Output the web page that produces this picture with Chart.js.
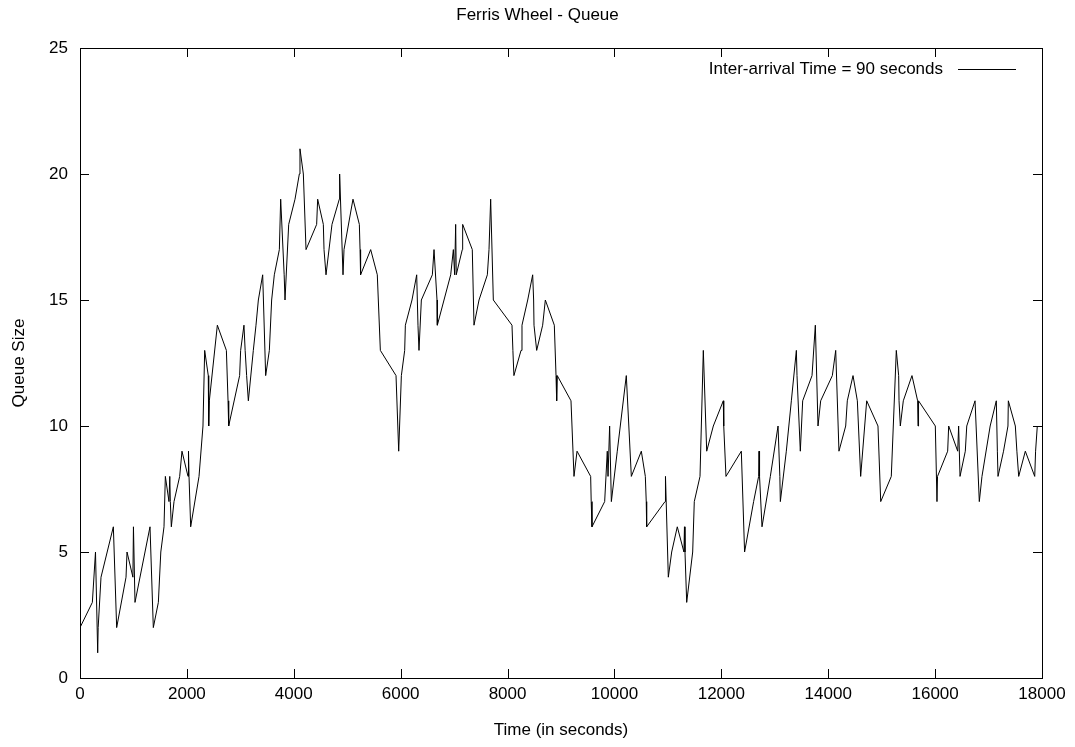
<!DOCTYPE html>
<html>
<head>
<meta charset="utf-8">
<title>Ferris Wheel - Queue</title>
<script src="https://cdn.jsdelivr.net/npm/chart.js@4/dist/chart.umd.min.js"></script>
<style>
html, body { margin: 0; padding: 0; background: #fff; }
#wrap { width: 1075px; height: 747px; }
</style>
</head>
<body>
<div id="wrap"><canvas id="chart1"></canvas></div>
<script>
// event times (seconds) and queue size at that time
const times = [
    0, 231, 290, 331, 340, 393, 624, 686, 861, 880, 990, 1000, 1029, 1310, 1372, 1466,
    1512, 1572, 1597, 1665, 1680, 1690, 1709, 1759, 1865, 1908, 2021, 2030, 2040, 2071,
    2227, 2301, 2333, 2400, 2408, 2420, 2570, 2739, 2770, 2782, 2987, 3006, 3068, 3090,
    3118, 3150, 3243, 3293, 3337, 3418, 3474, 3543, 3586, 3636, 3730, 3755, 3820, 3836,
    3905, 4023, 4104, 4116, 4179, 4229, 4428, 4447, 4553, 4566, 4603, 4715, 4852, 4858,
    4921, 4940, 5108, 5227, 5240, 5250, 5439, 5563, 5620, 5913, 5963, 6013, 6075, 6088,
    6212, 6300, 6324, 6343, 6387, 6593, 6624, 6680, 6686, 6811, 6936, 6986, 7010, 7029,
    7040, 7153, 7160, 7340, 7372, 7466, 7622, 7653, 7684, 7734, 8083, 8100, 8119, 8252,
    8270, 8377, 8470, 8488, 8495, 8545, 8657, 8707, 8875, 8907, 8919, 8930, 9187, 9243,
    9300, 9555, 9565, 9580, 9817, 9866, 9880, 9910, 9942, 10053, 10222, 10316, 10503, 10578,
    10595, 10603, 10946, 10955, 11008, 11071, 11176, 11300, 11310, 11320, 11352, 11464, 11494, 11601,
    11663, 11726, 11850, 12037, 12045, 12087, 12374, 12435, 12604, 12698, 12705, 12715, 12761, 12917,
    13061, 13095, 13104, 13216, 13310, 13404, 13416, 13478, 13522, 13697, 13759, 13809, 13859, 14077,
    14140, 14201, 14327, 14357, 14464, 14545, 14607, 14720, 14931, 14982, 15180, 15274, 15318, 15325,
    15349, 15405, 15567, 15673, 15680, 15690, 16004, 16035, 16045, 16235, 16254, 16423, 16440, 16466,
    16565, 16592, 16747, 16827, 16877, 17030, 17145, 17165, 17177, 17280, 17363, 17370, 17501, 17530,
    17564, 17688, 17864, 17880, 17912
];
const queueSizes = [
    2, 3, 5, 1, 2, 4, 6, 2, 4, 5, 4, 6, 3, 6, 2, 3,
    5, 6, 8, 7, 8, 7, 6, 7, 8, 9, 8, 9, 8, 6,
    8, 10, 13, 12, 10, 11, 14, 13, 11, 10, 12, 13, 14, 13,
    12, 11, 13, 14, 15, 16, 12, 13, 15, 16, 17, 19, 16, 15,
    18, 19, 20, 21, 20, 17, 18, 19, 18, 17, 16, 18, 19, 20,
    16, 17, 19, 18, 17, 16, 17, 16, 13, 12, 9, 12, 13, 14,
    15, 16, 14, 13, 15, 16, 17, 15, 14, 15, 16, 17, 16, 18,
    16, 17, 18, 17, 14, 15, 16, 17, 19, 15, 14, 13, 12, 13,
    14, 15, 16, 15, 14, 13, 14, 15, 14, 12, 11, 12, 11, 8,
    9, 8, 7, 6, 7, 9, 8, 10, 7, 9, 12, 8, 9, 8,
    7, 6, 7, 8, 4, 5, 6, 5, 6, 5, 3, 5, 7, 8,
    13, 9, 10, 11, 10, 8, 9, 5, 7, 8, 9, 8, 6, 8,
    10, 8, 7, 9, 11, 13, 12, 9, 11, 12, 14, 10, 11, 12,
    13, 9, 10, 11, 12, 11, 8, 11, 10, 7, 8, 13, 12, 11,
    10, 11, 12, 11, 10, 11, 10, 7, 8, 9, 10, 9, 10, 8,
    9, 10, 11, 7, 8, 10, 11, 9, 8, 9, 10, 11, 10, 9,
    8, 9, 8, 9, 10
];
const xTicks = [0, 2000, 4000, 6000, 8000, 10000, 12000, 14000, 16000, 18000];
const yTicks = [0, 5, 10, 15, 20, 25];

const chartTitle = 'Ferris Wheel - Queue';
const seriesLabel = 'Inter-arrival Time = 90 seconds';
const xTitle = 'Time (in seconds)';
const yTitle = 'Queue Size';

const fontFamily = '"Liberation Sans", Arial, Helvetica, sans-serif';
const fontSize = 17;

// gnuplot style frame: box, inward ticks on all 4 sides, title and key
const gnuplotFrame = {
    id: 'gnuplotFrame',
    afterDatasetsDraw(chart) {
        const ctx = chart.ctx;
        const a = chart.chartArea;
        const sx = chart.scales.x, sy = chart.scales.y;
        const tick = 9;
        ctx.save();
        ctx.strokeStyle = '#000';
        ctx.lineWidth = 1;
        ctx.beginPath();
        xTicks.forEach(v => {
            const px = Math.round(sx.getPixelForValue(v)) + 0.5;
            ctx.moveTo(px, a.bottom); ctx.lineTo(px, a.bottom - tick);
            ctx.moveTo(px, a.top); ctx.lineTo(px, a.top + tick);
        });
        yTicks.forEach(v => {
            const py = Math.round(sy.getPixelForValue(v)) + 0.5;
            ctx.moveTo(a.left, py); ctx.lineTo(a.left + tick, py);
            ctx.moveTo(a.right, py); ctx.lineTo(a.right - tick, py);
        });
        ctx.stroke();
        ctx.strokeRect(Math.round(a.left) + 0.5, Math.round(a.top) + 0.5,
            Math.round(a.right - a.left), Math.round(a.bottom - a.top));

        // title
        ctx.fillStyle = '#000';
        ctx.font = fontSize + 'px ' + fontFamily;
        ctx.textAlign = 'center';
        ctx.textBaseline = 'middle';
        ctx.fillText(chartTitle, chart.width / 2, 15);

        // key: text then line sample
        const ky = 69;
        ctx.textAlign = 'right';
        ctx.fillText(seriesLabel, 943, ky);
        ctx.beginPath();
        ctx.moveTo(958, ky + 0.5);
        ctx.lineTo(1016, ky + 0.5);
        ctx.stroke();
        ctx.restore();
    }
};

const ctx = document.getElementById('chart1').getContext('2d');
new Chart(ctx, {
    type: 'scatter',
    data: {
        datasets: [{
            label: seriesLabel,
            data: times.map((t, i) => ({ x: t, y: queueSizes[i] })),
            showLine: true,
            borderColor: '#000',
            borderWidth: 1,
            pointRadius: 0,
            tension: 0
        }]
    },
    options: {
        responsive: true,
        maintainAspectRatio: false,
        animation: false,
        layout: { padding: { top: 48, right: 33, left: 0, bottom: 0 } },
        plugins: {
            legend: { display: false },
            tooltip: { enabled: false },
            title: { display: false }
        },
        scales: {
            x: {
                type: 'linear',
                min: 0,
                max: 18000,
                afterBuildTicks: s => { s.ticks = xTicks.map(v => ({ value: v })); },
                ticks: { color: '#000', font: { family: fontFamily, size: fontSize }, padding: 6, maxRotation: 0,
                    callback: v => String(v) },
                grid: { display: false, drawTicks: false },
                border: { display: false },
                title: { display: true, text: xTitle, color: '#000', font: { family: fontFamily, size: fontSize }, padding: { top: 0, bottom: 6 } },
                afterFit: s => { s.height = 747 - 678; }
            },
            y: {
                type: 'linear',
                min: 0,
                max: 25,
                afterBuildTicks: s => { s.ticks = yTicks.map(v => ({ value: v })); },
                ticks: { color: '#000', font: { family: fontFamily, size: fontSize }, padding: 12 },
                grid: { display: false, drawTicks: false },
                border: { display: false },
                title: { display: true, text: yTitle, color: '#000', font: { family: fontFamily, size: fontSize }, padding: { top: 9, bottom: 0 } },
                afterFit: s => { s.width = 80; }
            }
        }
    },
    plugins: [gnuplotFrame]
});
</script>
</body>
</html>
